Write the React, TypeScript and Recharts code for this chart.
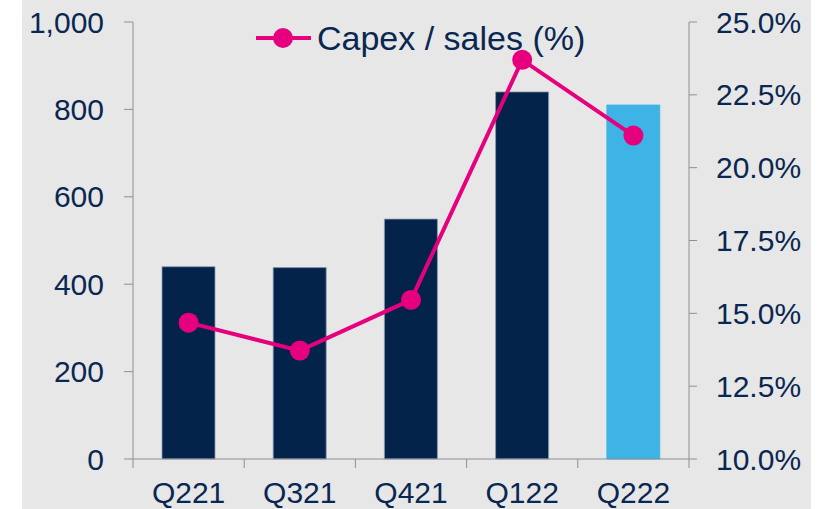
import React from 'react';
import { ComposedChart, Bar, Line, XAxis, YAxis, Cell } from 'recharts';

const quarters = ['Q221', 'Q321', 'Q421', 'Q122', 'Q222'];
const capex = [440, 438, 549, 840, 810];
const capexToSales = [14.68, 13.72, 15.46, 23.7, 21.1];
const leftTicks = [0, 200, 400, 600, 800, 1000];
const rightTicks = [10, 12.5, 15, 17.5, 20, 22.5, 25];

const NAVY = '#03234b';
const LIGHT_BLUE = '#3db4e5';
const PINK = '#e6007e';
const TEXT = '#0a2752';
const AXIS = '#8e8f98';
const FONT = '"Liberation Sans", Arial, sans-serif';
const X_TICK_SIZE = 9;
const X_TICK_MARGIN = 14;

const data = quarters.map((q, i) => ({ q, capex: capex[i], pct: capexToSales[i] }));

// category label plus tick marks on the category boundaries (Excel style)
const CategoryTick = (props: any) => {
    const { x, y, payload, index, visibleTicksCount, width } = props;
    const band = width / visibleTicksCount;
    const axisY = y - X_TICK_SIZE - X_TICK_MARGIN;
    return (
        <g>
            <line x1={x - band / 2} x2={x - band / 2} y1={axisY} y2={axisY + X_TICK_SIZE} stroke={AXIS} />
            {index === visibleTicksCount - 1 && (
                <line x1={x + band / 2} x2={x + band / 2} y1={axisY} y2={axisY + X_TICK_SIZE} stroke={AXIS} />
            )}
            <text x={x} y={y} dy="0.71em" textAnchor="middle" fill={TEXT} fontSize={30} fontFamily={FONT}>
                {payload.value}
            </text>
        </g>
    );
};

const LegendBox = () => (
    <div style={{ position: 'absolute', left: 254, top: 19, display: 'flex', alignItems: 'center', fontFamily: FONT, fontSize: 34, color: TEXT, lineHeight: '38px' }}>
        <svg width={60} height={24} style={{ marginRight: 3 }}>
            <line x1={2} y1={12} x2={57} y2={12} stroke={PINK} strokeWidth={4} />
            <circle cx={29} cy={12} r={10} fill={PINK} />
        </svg>
        <span>Capex / sales (%)</span>
    </div>
);

export default function App() {
    const tickStyle = { fill: TEXT, fontSize: 30, fontFamily: FONT };
    return (
        <div style={{ position: 'absolute', left: 0, top: 0, width: 830, height: 509, background: '#ffffff' }}>
            <div style={{ position: 'absolute', left: 22, top: 0, width: 789, height: 509, background: '#e7e7e7' }} />
            <div style={{ position: 'absolute', left: 0, top: 0 }}>
                <ComposedChart width={830} height={509} data={data} margin={{ top: 22, right: 0, bottom: 0, left: 0 }}>
                    <XAxis
                        dataKey="q"
                        height={50}
                        stroke={AXIS}
                        tick={<CategoryTick />}
                        tickLine={false}
                        tickSize={X_TICK_SIZE}
                        tickMargin={X_TICK_MARGIN}
                        interval={0}
                    />
                    <YAxis
                        yAxisId="left"
                        width={133}
                        domain={[0, 1000]}
                        ticks={leftTicks}
                        tickFormatter={(v: number) => v.toLocaleString('en-US')}
                        stroke={AXIS}
                        tick={tickStyle}
                        tickSize={9}
                        tickMargin={20}
                        interval={0}
                    />
                    <YAxis
                        yAxisId="right"
                        orientation="right"
                        width={141}
                        domain={[10, 25]}
                        ticks={rightTicks}
                        tickFormatter={(v: number) => v.toFixed(1) + '%'}
                        stroke={AXIS}
                        tick={tickStyle}
                        tickSize={8}
                        tickMargin={19}
                        interval={0}
                    />
                    <Bar yAxisId="left" dataKey="capex" barSize={53} isAnimationActive={false} strokeWidth={0.8}>
                        {data.map((d, i) => (
                            <Cell key={d.q} fill={i === data.length - 1 ? LIGHT_BLUE : NAVY} stroke={i === data.length - 1 ? LIGHT_BLUE : '#8a98ad'} />
                        ))}
                    </Bar>
                    <Line
                        yAxisId="right"
                        dataKey="pct"
                        name="Capex / sales (%)"
                        stroke={PINK}
                        strokeWidth={4}
                        dot={{ r: 10, fill: PINK, stroke: 'none' }}
                        activeDot={false}
                        isAnimationActive={false}
                    />
                </ComposedChart>
            </div>
            <LegendBox />
        </div>
    );
}
